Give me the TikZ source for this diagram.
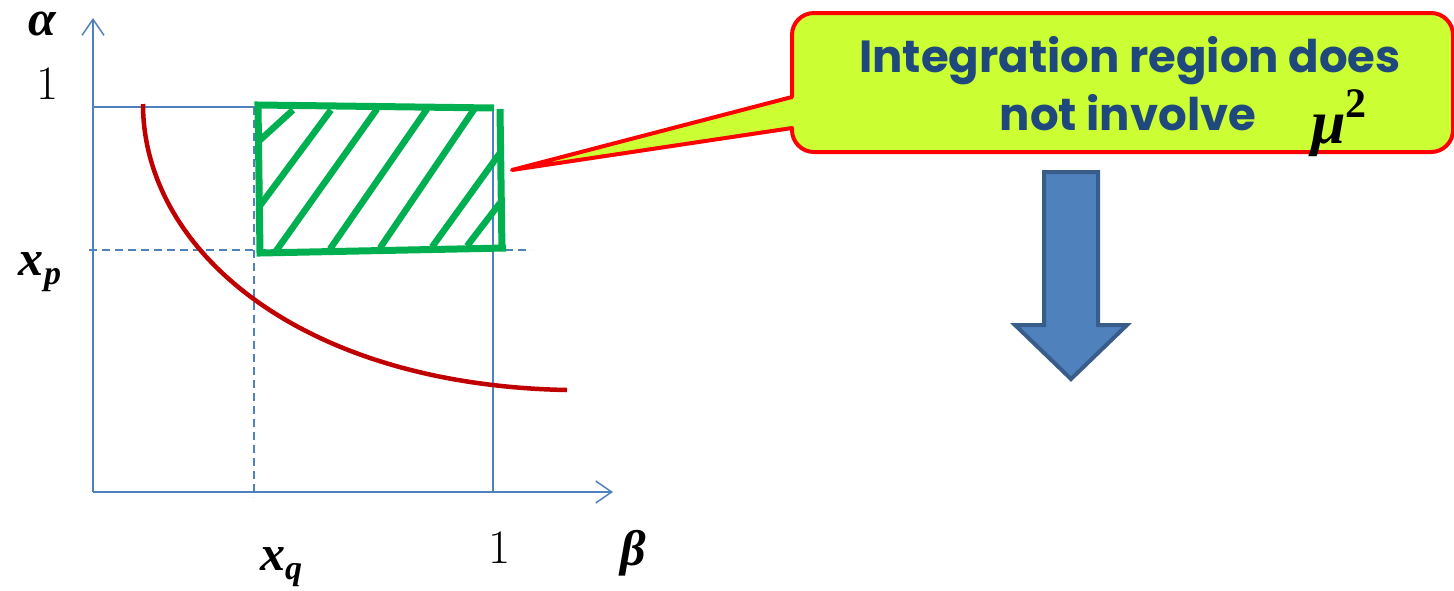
\documentclass[tikz,border=0pt]{standalone}
\usepackage{fontspec}
\newfontfamily\calloutfont{Poppins}
\newfontfamily\timesfont{Liberation Serif}
\usetikzlibrary{arrows.meta}
\definecolor{axisblue}{HTML}{4F81BD}
\definecolor{curvered}{HTML}{C00000}
\definecolor{boxgreen}{HTML}{00B050}
\definecolor{calloutfill}{HTML}{CCFF33}
\definecolor{callouttext}{HTML}{1F497D}
\definecolor{arrowfill}{HTML}{4F81BD}
\definecolor{arrowline}{HTML}{385D8A}
\newcommand{\bivar}[1]{{\timesfont\bfseries\itshape #1}}
\newcommand{\bisub}[2]{{\timesfont\bfseries\itshape #1\raisebox{-9pt}{\fontsize{34}{34}\selectfont #2}}}
\tikzset{
  axisline/.style={draw=axisblue, line width=1.5pt},
  axisarrow/.style={axisline, -{Straight Barb[length=16pt,width=22pt,line width=1.5pt]}},
  guide/.style={draw=axisblue, line width=1.5pt},
  dashguide/.style={draw=axisblue, line width=1.5pt, dash pattern=on 8pt off 5pt},
  curve/.style={draw=curvered, line width=4.5pt},
  greenbox/.style={draw=boxgreen, line width=7pt, line cap=butt, line join=miter},
  hatch/.style={draw=boxgreen, line width=6.5pt, line cap=butt},
  lbl/.style={inner sep=0pt, font=\fontsize{50}{50}\selectfont},
  numlbl/.style={inner sep=0pt, font=\fontsize{48}{48}\selectfont},
  callout/.style={draw=red, line width=4pt, fill=calloutfill, line join=round},
  callouttxt/.style={inner sep=0pt, anchor=base, text=callouttext, font=\calloutfont\bfseries\fontsize{45}{50}\selectfont},
  bigarrow/.style={draw=arrowline, fill=arrowfill, line width=4pt, line join=miter},
}
\begin{document}
\begin{tikzpicture}[x=1pt,y=-1pt]
\useasboundingbox (0,0) rectangle (1454,590);
% axes
\coordinate (O) at (93,492);
\coordinate (ytip) at (93,18);
\coordinate (xtip) at (613,492);
\draw[axisarrow] (O) -- (ytip);
\draw[axisarrow] (O) -- (xtip);
% guides
\coordinate (y1) at (93,107);
\coordinate (c11) at (493,107);
\coordinate (x1) at (493,492);
\draw[guide] (y1) -- (c11) -- (x1);
\coordinate (xpL) at (89,250);
\coordinate (xpR) at (531,250);
\draw[dashguide] (xpL) -- (xpR);
\coordinate (xqT) at (254,107);
\coordinate (xqB) at (254,497);
\draw[dashguide] (xqT) -- (xqB);
% curve
\coordinate (cs) at (143,104);
\coordinate (ce) at (567,390);
\draw[curve] (cs) .. controls (143,250) and (300,385) .. (ce);
% green box
\coordinate (g1) at (494,108);
\coordinate (g2) at (258,105);
\coordinate (g3) at (260,253);
\coordinate (g4) at (506,248);
\coordinate (g5) at (500,109);
\coordinate (g6) at (502,251);
\draw[greenbox] (g1) -- (g2) -- (g3) -- (g4);
\draw[greenbox] (g5) -- (g6);
\draw[hatch] (259,141) -- (293,110);
\draw[hatch] (259,207) -- (331,110);
\draw[hatch] (276,251) -- (377,109);
\draw[hatch] (330,249) -- (427,109);
\draw[hatch] (380,248) -- (475,108);
\draw[hatch] (432,247) -- (500,153);
\draw[hatch] (467,246) -- (500,203);
% labels
\node[lbl, anchor=base, text height=24pt] (alpha) at (42,35) {\bivar{α}};
\node[numlbl, anchor=base] (oney) at (48,99) {1};
\node[lbl, anchor=base] (xp) at (40,275) {\bisub{x}{p}};
\node[lbl, anchor=base] (xq) at (281,570) {\bisub{x}{q}};
\node[numlbl, anchor=base] (onex) at (500,563) {1};
\node[lbl, anchor=base] (beta) at (633,565) {\bivar{β}};
% callout
\coordinate (tip) at (512,170);
\draw[callout] (tip) -- (792,97) [rounded corners=22pt] -- (792,13) -- (1453,13) -- (1453,152) -- (792,152) [sharp corners] -- (792,128) -- cycle;
\node[callouttxt] (t1) at (1130,72) {Integration region does};
\node[callouttxt] (t2) at (1128,130) {not involve};
\node[inner sep=0pt, anchor=base west] (mu) at (1311,143) {\timesfont\bfseries\itshape\fontsize{62}{62}\selectfont μ\raisebox{26pt}{\upshape\fontsize{42}{42}\selectfont 2}};
% big arrow
\draw[bigarrow] (1044,172) -- (1098,172) -- (1098,325) -- (1127,325) -- (1071,379) -- (1015,325) -- (1044,325) -- cycle;
\end{tikzpicture}
\end{document}
